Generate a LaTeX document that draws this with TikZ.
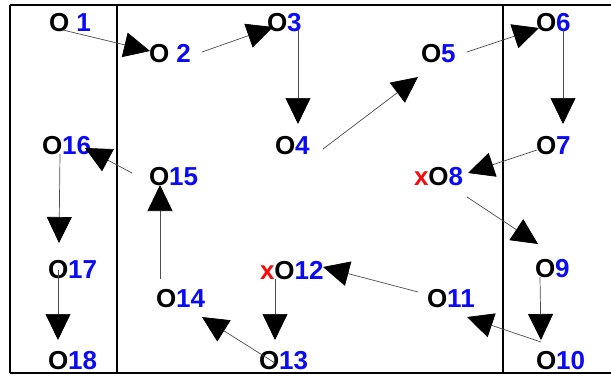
\documentclass[tikz,border=0pt]{standalone}
\usepackage{fontspec}
\setmainfont{Liberation Sans}
\usetikzlibrary{arrows.meta}
\definecolor{numblue}{RGB}{10,10,245}
\definecolor{xred}{RGB}{250,10,10}
\newcommand{\lbl}[1]{O\textcolor{numblue}{#1}}
\newcommand{\xlbl}[1]{\textcolor{xred}{x}O\textcolor{numblue}{#1}}
\tikzset{
  obj/.style={inner sep=0pt, outer sep=0pt, anchor=base west,
    font=\fontsize{26}{30}\selectfont\bfseries, text=black},
  frameline/.style={line width=1.8pt, black},
  conn/.style={line width=0.7pt, draw=black!70,
    -{Triangle[length=26pt,width=25pt,color=black]}}
}
\begin{document}
\begin{tikzpicture}[x=1pt,y=-1pt]
\useasboundingbox (0,0) rectangle (611,376);
% frame
\draw[frameline] (10,5) -- (611,5);
\draw[frameline] (10,373) -- (611,373);
\draw[frameline] (10,5) -- (10,373);
\draw[frameline] (117,5) -- (117,373);
\draw[frameline] (503,5) -- (503,373);
% nodes
\node[obj] (n1)  at (49,31)  {O \textcolor{numblue}{1}};
\node[obj] (n2)  at (149,62) {O \textcolor{numblue}{2}};
\node[obj] (n3)  at (267,31) {\lbl{3}};
\node[obj] (n4)  at (275,154) {\lbl{4}};
\node[obj] (n5)  at (421,62) {\lbl{5}};
\node[obj] (n6)  at (536,31) {\lbl{6}};
\node[obj] (n7)  at (536,154) {\lbl{7}};
\node[obj] (n8)  at (414,185) {\xlbl{8}};
\node[obj] (n9)  at (535,277) {\lbl{9}};
\node[obj] (n10) at (536,369) {\lbl{10}};
\node[obj] (n11) at (427,307) {\lbl{11}};
\node[obj] (n12) at (260,279) {\xlbl{12}};
\node[obj] (n13) at (259,369) {\lbl{13}};
\node[obj] (n14) at (156,307) {\lbl{14}};
\node[obj] (n15) at (149,185) {\lbl{15}};
\node[obj] (n16) at (42,154) {\lbl{16}};
\node[obj] (n17) at (48,278) {\lbl{17}};
\node[obj] (n18) at (48,369) {\lbl{18}};
% connectors
\draw[conn] ([shift={(14,-1)}]n1.base west) -- ([shift={(1,-11)}]n2.base west);
\draw[conn] ([shift={(53,-10)}]n2.base west) -- ([shift={(6,-4)}]n3.base west);
\draw[conn] ([shift={(31,-1)}]n3.base west) -- ([shift={(23,-30)}]n4.base west);
\draw[conn] ([shift={(48,-5)}]n4.base west) -- ([shift={(-3,15)}]n5.base west);
\draw[conn] ([shift={(46,-10)}]n5.base west) -- ([shift={(3,-3)}]n6.base west);
\draw[conn] ([shift={(27,-1)}]n6.base west) -- ([shift={(27,-30)}]n7.base west);
\draw[conn] ([shift={(1,-4)}]n7.base west) -- ([shift={(54,-12)}]n8.base west);
\draw[conn] ([shift={(53,12)}]n8.base west) -- ([shift={(3,-33)}]n9.base west);
\draw[conn] ([shift={(5,0)}]n9.base west) -- ([shift={(5,-29)}]n10.base west);
\draw[conn] ([shift={(5,-27)}]n10.base west) -- ([shift={(40,10)}]n11.base west);
\draw[conn] ([shift={(-9,-15)}]n11.base west) -- ([shift={(63,-12)}]n12.base west);
\draw[conn] ([shift={(15,0)}]n12.base west) -- ([shift={(16,-29)}]n13.base west);
\draw[conn] ([shift={(16,-6)}]n13.base west) -- ([shift={(46,10)}]n14.base west);
\draw[conn] ([shift={(4,-28)}]n14.base west) -- ([shift={(11,0)}]n15.base west);
\draw[conn] ([shift={(-17,-12)}]n15.base west) -- ([shift={(43,-6)}]n16.base west);
\draw[conn] ([shift={(18,0)}]n16.base west) -- ([shift={(11,-35)}]n17.base west);
\draw[conn] ([shift={(10,-8)}]n17.base west) -- ([shift={(10,-29)}]n18.base west);
\end{tikzpicture}
\end{document}
